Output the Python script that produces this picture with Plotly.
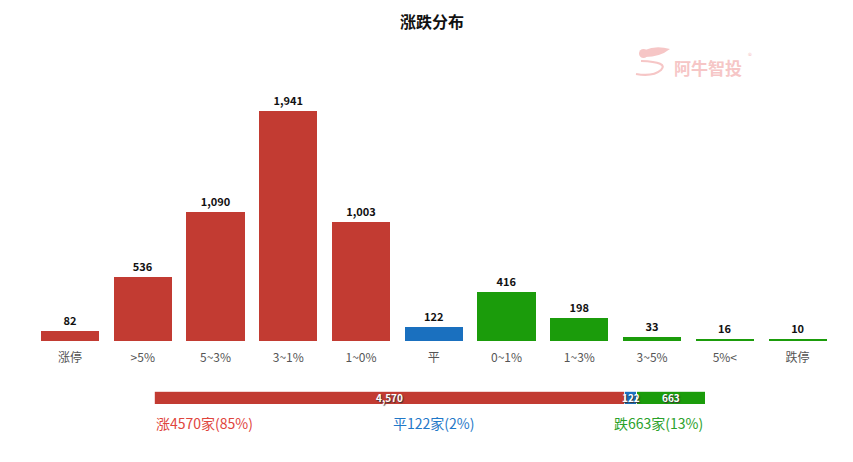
import plotly.graph_objects as go

categories = ["涨停", ">5%", "5~3%", "3~1%", "1~0%", "平", "0~1%", "1~3%", "3~5%", "5%<", "跌停"]
counts = [82, 536, 1090, 1941, 1003, 122, 416, 198, 33, 16, 10]
groups = ["up"] * 5 + ["flat"] + ["down"] * 5

summary_names = ["涨", "平", "跌"]
summary_values = [4570, 122, 663]
summary_pcts = [85, 2, 13]

RED = "#c23b32"
BLUE = "#1a70bf"
GREEN = "#1b9c0b"
color_map = {"up": RED, "flat": BLUE, "down": GREEN}
FONT = "Microsoft YaHei, Noto Sans CJK SC, sans-serif"
PINK = "#f6c6c6"

OFF = 8  # page body margin
W, H = 853 - OFF, 462 - OFF
def sx(px):
    return (px - OFF) / W
def py(px):
    return 1 - (px - OFF) / H

fig = go.Figure()
fig.add_trace(go.Bar(
    x=categories, y=counts,
    marker=dict(color=[color_map[g] for g in groups], line=dict(width=0)),
    text=[f"{v:,}" for v in counts], textposition="outside",
    textfont=dict(size=11, color="#111", family=FONT, weight="bold", shadow="0px 0px 2px white"),
    cliponaxis=False, xaxis="x", yaxis="y", hoverinfo="x+y",
))

seg_colors = [RED, BLUE, GREEN]
total = sum(summary_values)
for name, v, c in zip(summary_names, summary_values, seg_colors):
    fig.add_trace(go.Bar(
        x=[v], y=[0], orientation="h", width=1,
        marker=dict(color=c, line=dict(color="white", width=0.8)),
        xaxis="x2", yaxis="y2", name=name, hoverinfo="x",
    ))

ann = []
cum = 0
for v in summary_values:
    ann.append(dict(x=cum + v / 2, y=0, xref="x2", yref="y2", text=f"{v:,}", showarrow=False,
                    font=dict(size=10, color="white", family=FONT, weight="bold",
                              shadow="1px 1px 1px #333")))
    cum += v

label_colors = ["#e0453d", "#1f78c8", "#2aa12a"]
anchors = ["left", "center", "right"]
xs = [sx(154), sx(433), sx(705)]
for name, v, p, c, a, x in zip(summary_names, summary_values, summary_pcts, label_colors, anchors, xs):
    ann.append(dict(x=x, y=py(423), xref="paper", yref="paper", xanchor=a, yanchor="middle",
                    text=f"{name}{v}家({p}%)", showarrow=False,
                    font=dict(size=14, color=c, family=FONT)))

ann.append(dict(x=sx(432), y=py(21), xref="paper", yref="paper", text="<b>涨跌分布</b>",
                xanchor="center", yanchor="middle",
                showarrow=False, font=dict(size=16, color="#111", family=FONT)))
ann.append(dict(x=sx(708), y=py(67), xref="paper", yref="paper", text="<b>阿牛智投</b>",
                xanchor="center", yanchor="middle",
                showarrow=False, font=dict(size=17, color=PINK, family=FONT)))
ann.append(dict(x=sx(750), y=py(55), xref="paper", yref="paper", text="®",
                xanchor="center", yanchor="middle",
                showarrow=False, font=dict(size=8, color=PINK, family=FONT)))

def P(x, y):
    return f"{sx(x):.5f},{py(y):.5f}"

shapes = [
    dict(type="circle", xref="paper", yref="paper",
         x0=sx(639), x1=sx(648), y0=py(58), y1=py(49), fillcolor=PINK, line=dict(width=0)),
    dict(type="path", xref="paper", yref="paper",
         path=f"M {P(645,50)} Q {P(656,45)} {P(670,49)} Q {P(660,57)} {P(645,57)} Z",
         fillcolor=PINK, line=dict(width=0)),
    dict(type="path", xref="paper", yref="paper",
         path=f"M {P(641,61)} Q {P(669,62)} {P(661,70)} Q {P(653,77)} {P(636,74)}",
         line=dict(color=PINK, width=2.2)),
]

ymax = 1941 / ((341 - 111) / (341 - 60))
fig.update_layout(
    width=W, height=H, margin=dict(l=0, r=0, t=0, b=0),
    paper_bgcolor="white", plot_bgcolor="white",
    showlegend=False, barmode="stack", bargap=0.2,
    annotations=ann, shapes=shapes,
    xaxis=dict(domain=[sx(33.6), sx(834)], showgrid=False, zeroline=False, showline=False,
               ticks="", ticklabelstandoff=8,
               tickfont=dict(size=12, color="#555", family=FONT)),
    yaxis=dict(domain=[py(341), py(60)], range=[0, ymax], visible=False),
    xaxis2=dict(domain=[sx(154), sx(705)], range=[0, total], visible=False, anchor="y2"),
    yaxis2=dict(domain=[py(404), py(391)], range=[-0.5, 0.5], visible=False, anchor="x2"),
    font=dict(family=FONT),
)

fig.write_html("out.html")
